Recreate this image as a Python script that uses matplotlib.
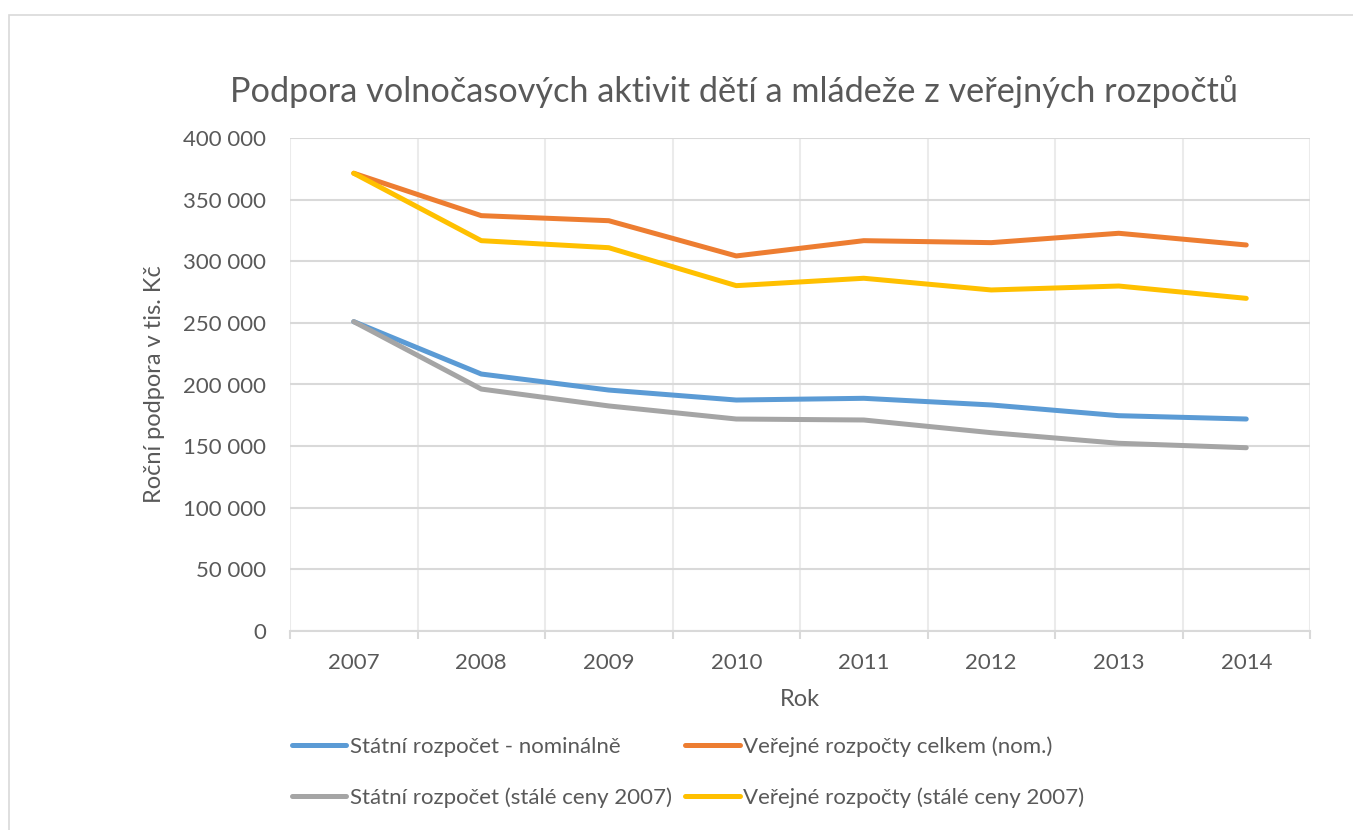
import numpy as np
import matplotlib.pyplot as plt
from matplotlib.patches import Rectangle
from matplotlib.ticker import FuncFormatter, MultipleLocator

plt.rcParams['font.family'] = ['Lato', 'DejaVu Sans']

# Data (tis. Kč)
roky = ['2007', '2008', '2009', '2010', '2011', '2012', '2013', '2014']
statni_nom = [251000, 208500, 195500, 187400, 188800, 183400, 174700, 172000]
verejne_nom = [371400, 337000, 332900, 304300, 316700, 315100, 322700, 313200]
statni_stale = [251000, 196300, 182600, 172000, 171200, 160900, 152300, 148700]
verejne_stale = [371400, 316700, 311000, 280200, 286200, 276700, 279900, 269900]

text_color = '#595959'
grid_color = '#D9D9D9'

fig = plt.figure(figsize=(13.53, 8.30), dpi=100)
ax = fig.add_axes([290/1353, 1 - 631/830, 1020/1353, 493/830])

x = np.arange(len(roky))
lw = 3.6
l1, = ax.plot(x, statni_nom, color='#5B9BD5', lw=lw, solid_capstyle='round',
              label='Státní rozpočet - nominálně', zorder=3)
l2, = ax.plot(x, verejne_nom, color='#ED7D31', lw=lw, solid_capstyle='round',
              label='Veřejné rozpočty celkem (nom.)', zorder=3)
l3, = ax.plot(x, statni_stale, color='#A5A5A5', lw=lw, solid_capstyle='round',
              label='Státní rozpočet (stálé ceny 2007)', zorder=3)
l4, = ax.plot(x, verejne_stale, color='#FFC000', lw=lw, solid_capstyle='round',
              label='Veřejné rozpočty (stálé ceny 2007)', zorder=3)

ax.set_xlim(-0.5, len(roky) - 0.5)
ax.set_ylim(0, 400000)
ax.yaxis.set_major_locator(MultipleLocator(50000))
ax.yaxis.set_major_formatter(FuncFormatter(lambda v, p: f'{int(v):,}'.replace(',', ' ')))

ax.set_xticks(x)
ax.set_xticklabels(roky)
ax.set_xticks(np.arange(-0.5, len(roky)), minor=True)

for s in ['top', 'right', 'left']:
    ax.spines[s].set_visible(False)
ax.spines['bottom'].set_color(grid_color)
ax.spines['bottom'].set_linewidth(1.5)

ax.grid(axis='y', which='major', color=grid_color, lw=1.5, zorder=0)
ax.grid(axis='x', which='minor', color='#EBEBEB', lw=1.5, zorder=0)
ax.grid(axis='x', which='major', visible=False)

ax.tick_params(axis='y', length=0, pad=17, labelsize=16, labelcolor=text_color)
ax.tick_params(axis='x', which='major', length=0, pad=16, labelsize=16, labelcolor=text_color)
ax.tick_params(axis='x', which='minor', length=6, width=1.5, color=grid_color)

ax.set_xlabel('Rok', fontsize=17, color=text_color)
ax.xaxis.set_label_coords(0.5, -0.118)
ax.set_ylabel('Roční podpora v tis. Kč', fontsize=17, color=text_color)
ax.yaxis.set_label_coords(-0.123, 0.5)

fig.text(734/1353, 1 - 92/830, 'Podpora volnočasových aktivit dětí a mládeže z veřejných rozpočtů',
         ha='center', va='center', fontsize=24.7, color=text_color)

leg = fig.legend(handles=[l1, l3, l2, l4], ncol=2, loc='center left',
                 bbox_to_anchor=(292/1353, 1 - 772/830), frameon=False,
                 fontsize=16, handlelength=2.45, handletextpad=0.15,
                 columnspacing=0.6, labelspacing=1.38, borderpad=0, borderaxespad=0)
for t in leg.get_texts():
    t.set_color(text_color)

fig.patches.append(Rectangle((9/1353, -0.05), 1.2, 1 - 15/830 + 0.05,
                             transform=fig.transFigure, fill=False,
                             edgecolor=grid_color, lw=1.2))

fig.savefig('out.png', dpi=100)
